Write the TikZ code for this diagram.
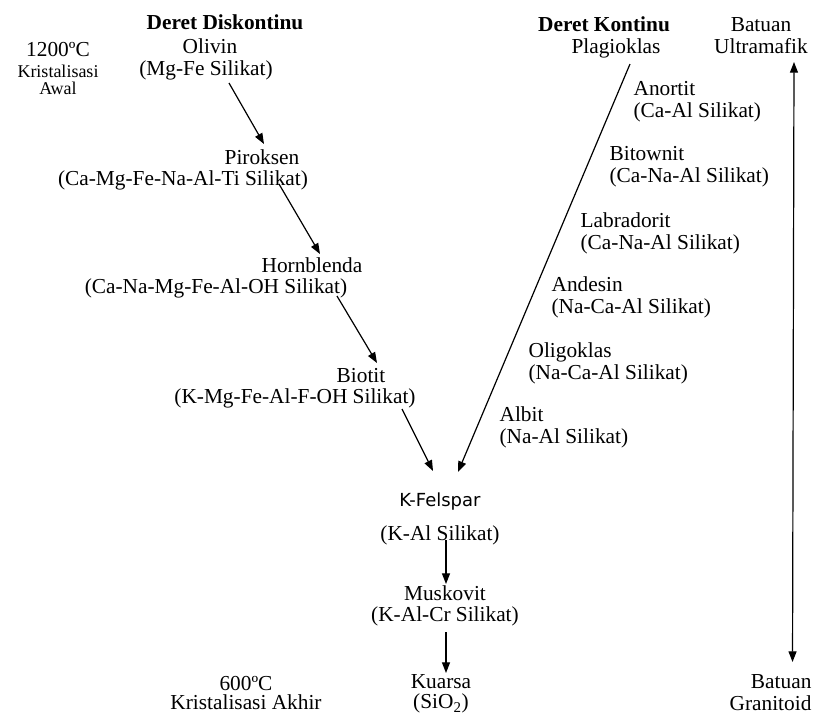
\documentclass[tikz,border=0pt]{standalone}
\usepackage{fontspec}
\setmainfont{Liberation Serif}
\newfontfamily\kfont{DejaVu Sans}
\usetikzlibrary{arrows.meta,calc}

\tikzstyle{mineral}=[font=\fontsize{16}{16.5}\selectfont,inner sep=1pt]
\tikzstyle{deret}=[mineral,font=\fontsize{16}{16.5}\selectfont\bfseries]
\tikzstyle{plagio}=[mineral,anchor=west,align=left]
\tikzstyle{suhu}=[mineral,align=center]
\tikzstyle{panah}=[draw,line width=0.9pt,-{Triangle[length=8pt,width=6pt]}]

\begin{document}
\begin{tikzpicture}[x=0.75pt,y=-0.75pt]
	\useasboundingbox (0,0) rectangle (814,715);
			% Judul kedua deret
			\node[deret] (dis) at (225,22) {Deret Diskontinu};
			\node[deret] (kon) at (604,24) {Deret Kontinu};
			% Suhu kristalisasi
			\node[mineral] (awal) at (58,50) {1200ºC};
			\node[suhu,font=\fontsize{13.5}{12.8}\selectfont] (kawal) at (58,80) {Kristalisasi\\Awal};
			\node[suhu,font=\fontsize{16}{14.5}\selectfont] (akhir) at (246,693) {600ºC\\Kristalisasi Akhir};
			% Deret diskontinu
			\node[mineral] (ol) at (210,46) {Olivin};
			\node[mineral] (ol-f) at (206,70) {(Mg-Fe Silikat)};
			\node[mineral] (pir) at (262,157) {Piroksen};
			\node[mineral] (pir-f) at (183,180) {(Ca-Mg-Fe-Na-Al-Ti Silikat)};
			\node[mineral] (hor) at (312,265) {Hornblenda};
			\node[mineral] (hor-f) at (216,288) {(Ca-Na-Mg-Fe-Al-OH Silikat)};
			\node[mineral] (bio) at (361,376) {Biotit};
			\node[mineral] (bio-f) at (295,398) {(K-Mg-Fe-Al-F-OH Silikat)};
			% Deret kontinu
			\node[mineral] (plag) at (616,48) {Plagioklas};
			\node[plagio] (ano) at (632,102) {Anortit\\(Ca-Al Silikat)};
			\node[plagio] (bit) at (608,167) {Bitownit\\(Ca-Na-Al Silikat)};
			\node[plagio] (lab) at (579,233) {Labradorit\\(Ca-Na-Al Silikat)};
			\node[plagio] (and) at (550,297) {Andesin\\(Na-Ca-Al Silikat)};
			\node[plagio] (oli) at (527,363) {Oligoklas\\(Na-Ca-Al Silikat)};
			\node[plagio] (alb) at (498,427) {Albit\\(Na-Al Silikat)};
			% Bagian bawah
			\node[mineral,font=\fontsize{13.5}{14}\kfont] (kf) at (440,502) {K-Felspar};
			\node[mineral] (kf-f) at (440,535) {(K-Al Silikat)};
			\node[mineral] (mus) at (445,593) {Muskovit};
			\node[mineral] (mus-f) at (445,616) {(K-Al-Cr Silikat)};
			\node[suhu,inner sep=0pt,font=\fontsize{16}{15}\selectfont] (kua) at (441,694) {Kuarsa\\(SiO\textsubscript{2})};
			% Jenis batuan
			\node[suhu] (ultra) at (761,36) {Batuan\\Ultramafik};
			\node[suhu,align=right,anchor=east] (grani) at (813,693) {Batuan\\Granitoid};
	    		% Panah urutan kristalisasi
	   		 \foreach \source/\sx/\sy/\dest/\dx/\dy in {ol-f/23/13/pir/2/-13, pir-f/96/4/hor/8/-11,
	   		 	hor-f/121/8/bio/16/-13, bio-f/107/11/kf/-7/-31, plag/14/16/kf/18/-30,
	   		 	kf-f/6/5/mus/1/-9, mus-f/1/16/kua/5/-21}
			 \path[panah] ($(\source)+(\sx,\sy)$) to ($(\dest)+(\dx,\dy)$);
			\path[panah,{Triangle[length=8pt,width=6pt]}-{Triangle[length=8pt,width=6pt]}] ($(ultra)+(33,26)$) to ($(grani)+(22,-31)$);
		\end{tikzpicture}
\end{document}
